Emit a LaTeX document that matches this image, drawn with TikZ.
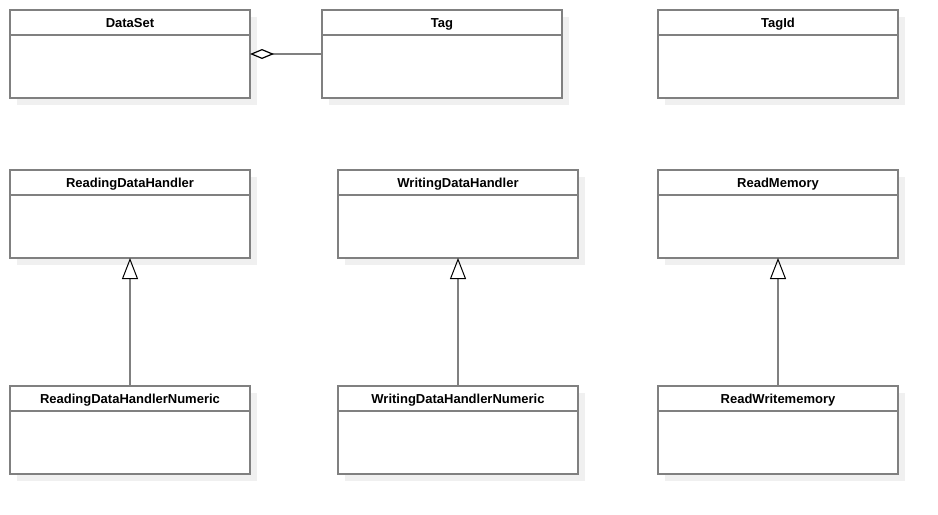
\documentclass[tikz,border=0pt]{standalone}
\usepackage{fontspec}
\setmainfont{Liberation Sans}
\usetikzlibrary{arrows.meta,calc}
\definecolor{boxline}{HTML}{808080}
\definecolor{shadowc}{HTML}{F0F0F0}
\tikzset{
  classbox/.style={draw=boxline, line width=1.5pt, fill=white, minimum width=180pt, minimum height=66pt, anchor=north west, inner sep=0pt, outer sep=0pt},
  classtitle/.style={font=\bfseries\fontsize{9.75}{11}\selectfont, anchor=base, inner sep=0pt},
  conn/.style={draw=boxline, line width=0.9pt},
  inherit/.style={conn, -{Triangle[open, length=15.75pt, width=12pt, color=black, line width=0.75pt]}},
  aggr/.style={conn, -{Diamond[open, length=18pt, width=7.5pt, color=black, line width=0.9pt]}},
}
\newcommand{\umlclass}[4]{% name, x, y, title
  \fill[shadowc] (#2+7,#3+7) rectangle ++(240,88);
  \node[classbox] (#1) at (#2,#3) {};
  \draw[boxline, line width=1.5pt] (#2,#3+25) -- (#2+240,#3+25);
  \node[classtitle] (#1-t) at (#2+120,#3+17) {#4};
}
\begin{document}
\begin{tikzpicture}[x=0.75pt,y=-0.75pt]
\useasboundingbox (0,0) rectangle (938,514);
\umlclass{ds}{10}{10}{DataSet}
\umlclass{tag}{322}{10}{Tag}
\umlclass{tagid}{658}{10}{TagId}
\umlclass{rdh}{10}{170}{ReadingDataHandler}
\umlclass{wdh}{338}{170}{WritingDataHandler}
\umlclass{rm}{658}{170}{ReadMemory}
\umlclass{rdhn}{10}{386}{ReadingDataHandlerNumeric}
\umlclass{wdhn}{338}{386}{WritingDataHandlerNumeric}
\umlclass{rwm}{658}{386}{ReadWritememory}
\draw[aggr] (tag.west) -- (ds.east);
\draw[inherit] (rdhn.north) -- (rdh.south);
\draw[inherit] (wdhn.north) -- (wdh.south);
\draw[inherit] (rwm.north) -- (rm.south);
\end{tikzpicture}
\end{document}
